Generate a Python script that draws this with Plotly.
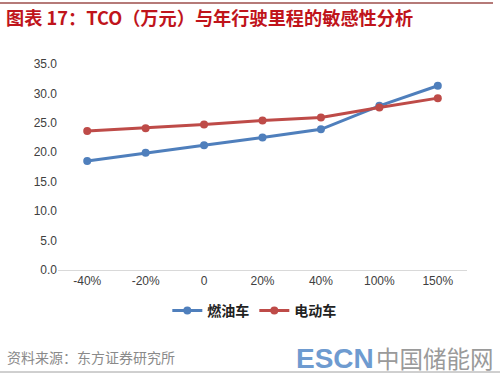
import plotly.graph_objects as go

categories = ["-40%", "-20%", "0", "20%", "40%", "100%", "150%"]
ice_values = [18.5, 19.9, 21.2, 22.5, 23.9, 27.9, 31.3]
ev_values = [23.6, 24.1, 24.7, 25.4, 25.9, 27.6, 29.2]
series_names = ["燃油车", "电动车"]
y_ticks = [0, 5, 10, 15, 20, 25, 30, 35]

BLUE = "#4F7FBC"
RED = "#BE4B48"
CJK = "Noto Sans CJK SC, Liberation Sans, sans-serif"

fig = go.Figure()
fig.add_trace(go.Scatter(x=categories, y=ice_values, name=f"<b>{series_names[0]}</b>", mode="lines+markers",
                         line=dict(color=BLUE, width=3), marker=dict(size=8, color=BLUE)))
fig.add_trace(go.Scatter(x=categories, y=ev_values, name=f"<b>{series_names[1]}</b>", mode="lines+markers",
                         line=dict(color=RED, width=3), marker=dict(size=8, color=RED)))

fig.update_layout(
    width=500, height=378,
    margin=dict(l=58, r=33, t=64, b=108),
    paper_bgcolor="white", plot_bgcolor="white",
    showlegend=True,
    legend=dict(orientation="h", x=0.48, xanchor="center", y=-41/206, yanchor="middle",
                font=dict(family=CJK, size=14, color="#222222"),
                itemwidth=30, tracegroupgap=0),
    xaxis=dict(type="category", showgrid=False, showline=True, linecolor="#D9D9D9", linewidth=1,
               ticks="", tickfont=dict(family="Liberation Sans, Arial", size=12, color="#404040"),
               range=[-0.5, 6.5], fixedrange=True, automargin=False),
    yaxis=dict(range=[0, 35], tickvals=y_ticks, ticktext=[f"{v:.1f}" for v in y_ticks],
               showgrid=False, zeroline=False, showline=False, ticks="",
               tickfont=dict(family="Liberation Sans, Arial", size=12, color="#404040"),
               fixedrange=True, automargin=False),
    shapes=[
        dict(type="line", xref="paper", yref="paper", x0=-58/409, x1=435/409, y0=1+61/206, y1=1+61/206,
             line=dict(color="#B57A78", width=2)),
        dict(type="line", xref="paper", yref="paper", x0=-58/409, x1=442/409, y0=-102/206, y1=-102/206,
             line=dict(color="#A0A0A0", width=1)),
    ],
    annotations=[
        dict(text="<b>图表 17：TCO（万元）与年行驶里程的敏感性分析</b>", xref="paper", yref="paper",
             x=-54/409, y=1+47/206, xanchor="left", yanchor="middle", showarrow=False,
             font=dict(family=CJK, size=18.2, color="#C0141B")),
        dict(text="资料来源：东方证券研究所", xref="paper", yref="paper",
             x=-53/409, y=-87/206, xanchor="left", yanchor="middle", showarrow=False,
             font=dict(family=CJK, size=14, color="#8A8A8A")),
        dict(text="<b>ESCN</b>", xref="paper", yref="paper",
             x=236/409, y=-88/206, xanchor="left", yanchor="middle", showarrow=False,
             font=dict(family="Liberation Sans, Arial", size=28, color="#6E9BD0")),
        dict(text="中国储能网", xref="paper", yref="paper",
             x=316/409, y=-88/206, xanchor="left", yanchor="middle", showarrow=False,
             font=dict(family=CJK, size=23.5, color="#9A9A9A")),
    ],
)

fig.write_html("out.html", config={"displayModeBar": False},
               post_script="document.body.style.margin='0';document.body.style.padding='0';")
